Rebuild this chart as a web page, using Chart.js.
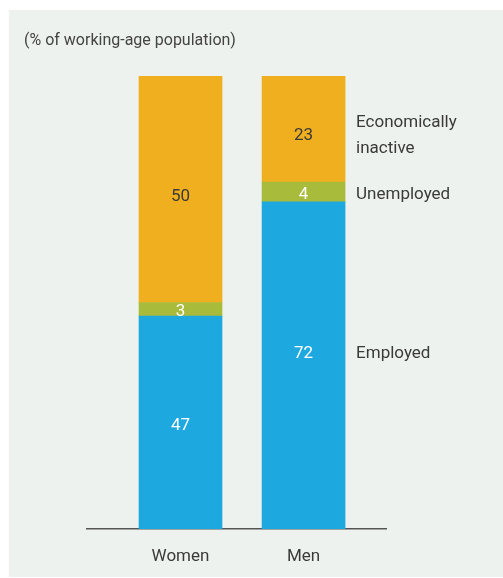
<!DOCTYPE html>
<html>
<head>
<meta charset="utf-8">
<script src="https://cdn.jsdelivr.net/npm/chart.js@4"></script>
<style>
  html, body { margin:0; padding:0; background:#fff; }
  #wrap { position:relative; width:503px; height:578px; }
</style>
</head>
<body>
<div id="wrap"><canvas id="c" width="503" height="578"></canvas></div>
<script>
// values (rounded labels shown inside bars)
const categories = ['Women', 'Men'];
const seriesNames = ['Employed', 'Unemployed', 'Economically inactive'];
const employed = [47, 72.2];
const unemployed = [3, 4.4];
const inactive = [50, 23.4];
const colors = ['#1ea8e0', '#a9bb3b', '#f0af1e'];
const valueColors = ['#ffffff', '#ffffff', '#3a3a3a'];
const sideLabels = [['Employed'], ['Unemployed'], ['Economically', 'inactive']];
// vertical nudge of the value labels, per series and category (px)
const nudge = [[3, -12], [2, 3], [7, 7]];

const FONT = "'Roboto', sans-serif";

const panel = {
  id: 'panel',
  beforeDraw(chart) {
    const c = chart.ctx;
    c.save();
    c.fillStyle = '#ffffff';
    c.fillRect(0, 0, chart.width, chart.height);
    c.fillStyle = '#edf2ee';
    c.fillRect(9, 10, chart.width - 9, chart.height - 11);
    c.fillStyle = '#444';
    c.font = '16px ' + FONT;
    c.textBaseline = 'middle';
    c.fillText('(% of working-age population)', 24, 41);
    c.restore();
  }
};

const labels = {
  id: 'labels',
  afterDatasetsDraw(chart) {
    const c = chart.ctx;
    c.save();
    c.font = '17px ' + FONT;
    c.textAlign = 'center';
    c.textBaseline = 'middle';
    chart.data.datasets.forEach((ds, i) => {
      const meta = chart.getDatasetMeta(i);
      meta.data.forEach((bar, j) => {
        const mid = (bar.y + bar.base) / 2 + nudge[i][j];
        c.fillStyle = valueColors[i];
        c.fillText(Math.round(ds.data[j].y), bar.x, mid);
      });
      // series names to the right of the last bar, level with its value
      const n = meta.data.length - 1;
      const last = meta.data[n];
      const mid = (last.y + last.base) / 2 + nudge[i][n];
      const lines = sideLabels[i];
      c.textAlign = 'left';
      c.fillStyle = '#3a3a3a';
      lines.forEach((t, k) => {
        c.fillText(t, last.x + last.width / 2 + 11, mid + (k - (lines.length - 1) / 2) * 26);
      });
      c.textAlign = 'center';
    });
    c.restore();
  }
};

const toPoints = arr => arr.map((v, i) => ({ x: i, y: v }));

new Chart(document.getElementById('c'), {
  type: 'bar',
  data: {
    datasets: [
      { label: seriesNames[0], data: toPoints(employed), backgroundColor: colors[0] },
      { label: seriesNames[1], data: toPoints(unemployed), backgroundColor: colors[1] },
      { label: seriesNames[2], data: toPoints(inactive), backgroundColor: colors[2] }
    ]
  },
  options: {
    responsive: false,
    animation: false,
    layout: { padding: { left: 87, right: 117, top: 76, bottom: 0 } },
    datasets: { bar: { barThickness: 83, borderWidth: 0 } },
    plugins: { legend: { display: false }, tooltip: { enabled: false } },
    scales: {
      x: {
        type: 'linear',
        stacked: true,
        offset: false,
        min: -0.76,
        max: 1.67,
        afterBuildTicks: s => { s.ticks = categories.map((_, i) => ({ value: i })); },
        afterFit: s => { s.height = 49; },
        grid: { display: false, drawTicks: false },
        border: { display: true, color: '#555', width: 1.5 },
        ticks: {
          autoSkip: false,
          maxRotation: 0,
          padding: 18,
          color: '#3a3a3a',
          font: { family: FONT, size: 17 },
          callback: v => categories[v]
        }
      },
      y: {
        stacked: true,
        min: 0,
        max: 100,
        display: false
      }
    }
  },
  plugins: [panel, labels]
});
</script>
</body>
</html>
